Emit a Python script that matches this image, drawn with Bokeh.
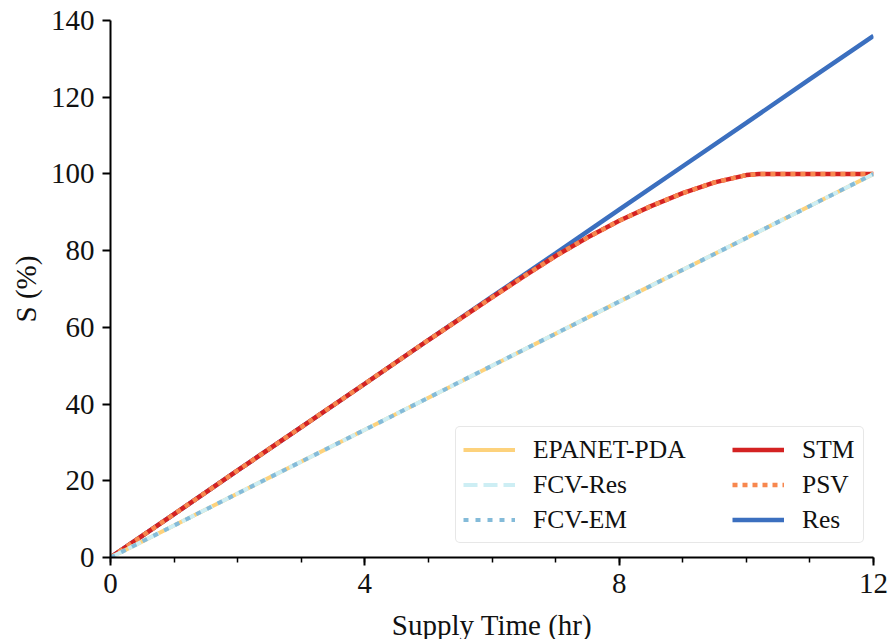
from bokeh.plotting import figure
from bokeh.models import Range1d, SingleIntervalTicker, Legend, LegendItem
from bokeh.embed import file_html
from bokeh.resources import INLINE

# ---- data ----
t_res = [0, 1, 2, 3, 4, 5, 6, 7, 8, 9, 10, 11, 12]
s_res = [0, 11.3, 22.7, 34.0, 45.3, 56.7, 68.0, 79.3, 90.7, 102.0, 113.3, 124.7, 136.0]

t_stm = [0, 1, 2, 3, 4, 5, 6, 6.5, 7, 7.5, 8, 8.5, 9, 9.5, 10, 10.2, 11, 12]
s_stm = [0, 11.3, 22.7, 34.0, 45.3, 56.7, 67.8, 73.3, 78.6, 83.4, 87.8, 91.6, 95.0, 97.8, 99.7, 100, 100, 100]
s_psv = [0, 11.3, 22.7, 34.0, 45.3, 56.7, 67.8, 73.3, 78.6, 83.4, 87.8, 91.6, 95.0, 97.8, 99.7, 100, 100, 100]

t_pda = [0, 2, 4, 6, 8, 10, 12]
s_pda = [0, 16.7, 33.3, 50.0, 66.7, 83.3, 100]
s_fcvres = [0, 16.7, 33.3, 50.0, 66.7, 83.3, 100]
s_fcvem = [0, 16.7, 33.3, 50.0, 66.7, 83.3, 100]

x_ticks_major = 4
y_ticks_major = 20

SERIF = "Liberation Serif"

p = figure(frame_width=763, frame_height=537, x_range=Range1d(0, 12), y_range=Range1d(0, 140),
           output_backend="svg", toolbar_location=None,
           min_border_left=110, min_border_right=18, min_border_top=20, min_border_bottom=82)
p.outline_line_color = None
p.xgrid.visible = False
p.ygrid.visible = False
p.background_fill_color = "white"
p.border_fill_color = "white"

# axes
p.xaxis.ticker = SingleIntervalTicker(interval=x_ticks_major, num_minor_ticks=4)
p.yaxis.ticker = SingleIntervalTicker(interval=y_ticks_major, num_minor_ticks=0)
for ax in (p.xaxis[0], p.yaxis[0]):
    ax.axis_line_width = 2
    ax.axis_line_color = "black"
    ax.major_tick_line_width = 2
    ax.major_tick_line_color = "black"
    ax.minor_tick_line_width = 1.5
    ax.minor_tick_line_color = "black"
    ax.major_tick_out = 8
    ax.major_tick_in = 0
    ax.minor_tick_out = 5
    ax.minor_tick_in = 0
    ax.major_label_text_font = SERIF
    ax.major_label_text_font_size = "29px"
    ax.major_label_text_color = "#111111"
    ax.axis_label_text_font = SERIF
    ax.axis_label_text_font_size = "29px"
    ax.axis_label_text_font_style = "normal"
    ax.axis_label_text_color = "#111111"
p.xaxis.axis_label = "Supply Time (hr)"
p.yaxis.axis_label = "S (%)"
p.xaxis.major_label_standoff = 8
p.yaxis.major_label_standoff = 8
p.xaxis.axis_label_standoff = 13
p.yaxis.axis_label_standoff = 6

# lines
r_res = p.line(t_res, s_res, line_color="#3b6fbf", line_width=4.5)
r_stm = p.line(t_stm, s_stm, line_color="#d42222", line_width=4.5)
r_psv = p.line(t_stm, s_psv, line_color="#f7874f", line_width=4.5, line_dash="5 5")
r_pda = p.line(t_pda, s_pda, line_color="#fdd27c", line_width=4)
r_fres = p.line(t_pda, s_fcvres, line_color="#cdeef4", line_width=4, line_dash="14 6")
r_fem = p.line(t_pda, s_fcvem, line_color="#84bbd9", line_width=4, line_dash="5 7")


def style_legend(lg):
    lg.label_text_font = SERIF
    lg.label_text_font_size = "25.5px"
    lg.label_text_color = "#111111"
    lg.glyph_width = 52
    lg.glyph_height = 31
    lg.label_height = 31
    lg.label_standoff = 18
    lg.spacing = 4
    lg.padding = 7
    lg.margin = 0


# left column carries the frame of the whole legend box
legend1 = Legend(items=[
    LegendItem(label="EPANET-PDA", renderers=[r_pda]),
    LegendItem(label="FCV-Res", renderers=[r_fres]),
    LegendItem(label="FCV-EM", renderers=[r_fem]),
], location=(345, 14), orientation="vertical")
style_legend(legend1)
legend1.label_width = 323
legend1.border_line_color = "#cfcfcf"
legend1.border_line_width = 1.5
legend1.background_fill_color = "white"
legend1.background_fill_alpha = 1.0
if "border_radius" in Legend.properties():
    legend1.border_radius = 5

# right column, drawn on top without its own frame
legend2 = Legend(items=[
    LegendItem(label="STM", renderers=[r_stm]),
    LegendItem(label="PSV", renderers=[r_psv]),
    LegendItem(label="Res", renderers=[r_res]),
], location=(622, 22), orientation="vertical")
style_legend(legend2)
legend2.border_line_color = None
legend2.background_fill_alpha = 0.0

p.add_layout(legend1, "center")
p.add_layout(legend2, "center")

open("out.html", "w").write(file_html(p, INLINE))
